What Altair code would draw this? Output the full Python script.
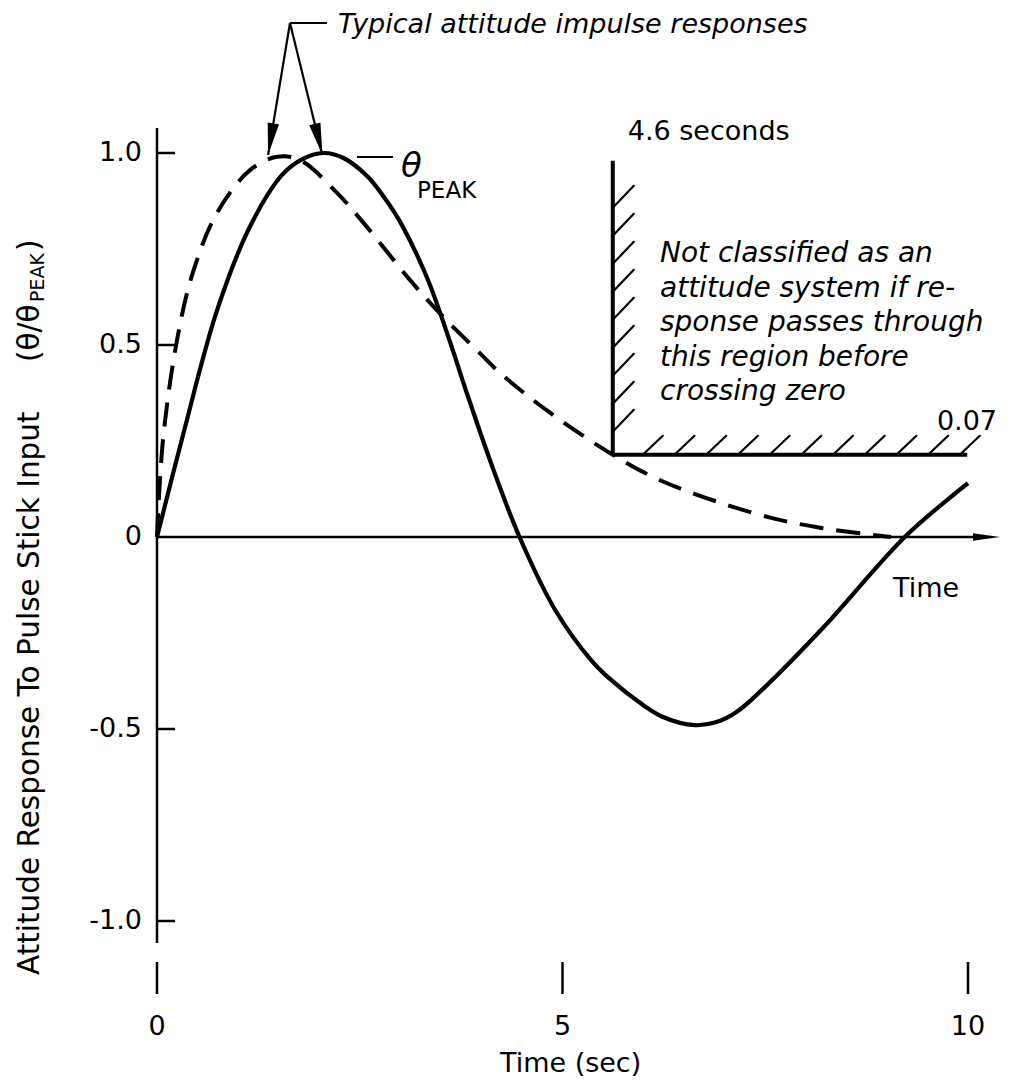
import altair as alt
import numpy as np
import pandas as pd

# ---------------- data ----------------
solid_t = [0.0, 0.32, 0.74, 1.15, 1.55, 1.80, 2.05, 2.30, 2.59, 2.80, 3.00, 3.33, 3.61, 3.82,
           4.14, 4.47, 4.91, 5.35, 5.57, 6.01, 6.23, 6.63, 6.90, 7.15, 7.45, 8.21, 9.22, 9.88,
           10.0]
solid_r = [0.0, 0.265, 0.59, 0.81, 0.945, 0.985, 1.00, 0.987, 0.94, 0.885, 0.82, 0.675, 0.51,
           0.375, 0.18, 0.0, -0.19, -0.32, -0.367, -0.44, -0.468, -0.49, -0.482, -0.455, -0.40,
           -0.237, 0.0, 0.12, 0.14]

dashed_t = [0.0, 0.074, 0.247, 0.444, 0.74, 1.15, 1.48, 1.76, 2.22, 2.59, 3.12, 3.53, 3.98,
            4.23, 4.85, 5.62, 6.12, 6.66, 7.55, 8.21, 9.05]
dashed_r = [0.0, 0.253, 0.513, 0.69, 0.844, 0.956, 0.99, 0.982, 0.896, 0.807, 0.669, 0.573,
            0.479, 0.427, 0.323, 0.214, 0.156, 0.11, 0.051, 0.023, 0.0]

x_ticks = [0, 5, 10]
x_tick_labels = ["0", "5", "10"]
y_ticks = [1.0, 0.5, 0.0, -0.5, -1.0]
y_tick_labels = ["1.0", "0.5", "0", "-0.5", "-1.0"]

region_t = [5.62, 9.99]      # time boundary of the hatched region (drawn), right end
region_r = [0.214, 0.98]     # response boundary (drawn), top of vertical boundary

region_lines = ["Not classified as an", "attitude system if re-",
                "sponse passes through", "this region before", "crossing zero"]

# ---------------- layout ----------------
W, H = 994, 1074
PXX, PXY = 81.1, 384.0          # pixels per second / per unit response
X0PX, Y0PX = 149.0, 529.0       # plot-area pixel of the data origin
xdom = [-X0PX / PXX, (W - X0PX) / PXX]
ydom = [-(H - Y0PX) / PXY, Y0PX / PXY]
xs = alt.Scale(domain=xdom, nice=False, zero=False)
ys = alt.Scale(domain=ydom, nice=False, zero=False)
FONT = "DejaVu Sans"


def ex(f="x"):
    return alt.X(f, type="quantitative", scale=xs, axis=None)


def ey(f="y"):
    return alt.Y(f, type="quantitative", scale=ys, axis=None)


def px(n):
    return n / PXX


def py(n):
    return n / PXY


def rules(rows, width, **kw):
    df = pd.DataFrame(rows, columns=["x", "y", "x2", "y2"])
    return alt.Chart(df).mark_rule(color="black", strokeWidth=width, **kw).encode(
        x=ex(), y=ey(), x2=alt.X2("x2"), y2=alt.Y2("y2"))


def texts(rows, size, **kw):
    df = pd.DataFrame(rows, columns=["x", "y", "text"])
    return alt.Chart(df).mark_text(color="black", font=FONT, fontSize=size, **kw).encode(
        x=ex(), y=ey(), text="text:N")


# curves
df_solid = pd.DataFrame({"x": solid_t, "y": solid_r})
df_dash = pd.DataFrame({"x": dashed_t, "y": dashed_r})
solid = alt.Chart(df_solid).mark_line(color="black", strokeWidth=4.2,
                                      interpolate="catmull-rom").encode(x=ex(), y=ey())
dashed = alt.Chart(df_dash).mark_line(color="black", strokeWidth=4, interpolate="catmull-rom",
                                      strokeDash=[24, 13]).encode(x=ex(), y=ey())

# axes
y_top, y_bot = py(Y0PX - 120), -py(943 - 537)
x_end = px(1000 - 157) - px(14)
axes = rules([[0, y_top, 0, y_bot], [0, 0, x_end, 0]], 2.5)
ytick_rows = [[0, v, px(18), v] for v in y_ticks if v != 0]
yticks = rules(ytick_rows, 2.5)
xtick_rows = [[t, -py(962 - 537), t, -py(994 - 537)] for t in x_ticks]
xticks = rules(xtick_rows, 2.5)

ylab = texts([[-px(15), v, s] for v, s in zip(y_ticks, y_tick_labels)], 27,
             align="right", baseline="middle")
xlab = texts([[t, -py(1027 - 537), s] for t, s in zip(x_ticks, x_tick_labels)], 27,
             align="center", baseline="middle")
xtitle = texts([[5.1, -py(1064 - 537), "Time (sec)"]], 27, align="center", baseline="middle")

# y-axis title (rotated)
yt_x = -px(157 - 30)
ytitle = texts([[yt_x, -py(975 - 537), "Attitude Response To Pulse Stick Input"],
                [yt_x, py(537 - 362), "(θ/θ"],
                [yt_x, py(537 - 251), ")"]], 29.5, align="left", baseline="middle", angle=270)
ytitle_sub = texts([[yt_x + px(8), py(537 - 302), "PEAK"]], 19, align="left",
                   baseline="middle", angle=270)

# x-axis arrowhead
arrow_x = alt.Chart(pd.DataFrame({"x": [px(1000 - 157) - px(13.5)], "y": [0.0]})).mark_point(
    shape="M1,0 L-1,-0.28 L-1,0.28 Z", size=729, filled=True, color="black", opacity=1).encode(
    x=ex(), y=ey())
time_lab = texts([[px(893 - 157), -py(597 - 537), "Time"]], 27, align="left", baseline="alphabetic")

# hatched region
rx0, rx1 = region_t
ry0, ry1 = region_r
boundary = rules([[rx0, ry0, rx0, ry1], [rx0, ry0, rx1, ry0]], 4)
hatch_rows = []
for yv in np.arange(ry0 + py(23), ry1 - py(40), py(28)):
    hatch_rows.append([rx0, yv, rx0 + px(21), yv + py(22)])
for xv in np.arange(rx0 + px(30), rx1 - px(5), px(31.7)):
    hatch_rows.append([xv, ry0, xv + px(20), ry0 + py(19)])
hatches = rules(hatch_rows, 2.2, strokeCap="round")

sec_lab = texts([[rx0 + px(15), py(537 - 140), "4.6 seconds"]], 27, align="left",
                baseline="alphabetic")
r07_lab = texts([[px(997 - 157), py(537 - 430), "0.07"]], 27, align="right", baseline="alphabetic")
base0 = 537 - 262
region_txt = texts([[px(660 - 157), py(base0 - i * 34.5), s] for i, s in enumerate(region_lines)],
                   28, align="left", baseline="alphabetic", fontStyle="italic")

# "Typical attitude impulse responses" leader with arrows
o = (px(290 - 157), py(537 - 23))
tips = [(1.37, 0.995), (2.04, 0.995)]
lead_rows = [[o[0], o[1], px(327 - 157), o[1]]] + [[o[0], o[1], t[0], t[1]] for t in tips]
leaders = rules(lead_rows, 2.2)
head_rows = []
for tx, ty in tips:
    dxp = (tx - o[0]) * PXX
    dyp = -(ty - o[1]) * PXY
    n = np.hypot(dxp, dyp)
    ux, uy = dxp / n, dyp / n
    ang = np.degrees(np.arctan2(-ux, uy)) % 360
    head_rows.append([tx - 16 * ux / PXX, ty + 16 * uy / PXY, ang])
heads = alt.Chart(pd.DataFrame(head_rows, columns=["x", "y", "ang"])).mark_point(
    shape="M0,1 L-0.36,-1 L0.36,-1 Z", size=1024, filled=True, color="black", opacity=1).encode(
    x=ex(), y=ey(), angle=alt.Angle("ang:Q", scale=None))
typ_lab = texts([[px(338 - 157), py(537 - 33), "Typical attitude impulse responses"]], 27,
                align="left", baseline="alphabetic", fontStyle="italic")

# theta-peak label
peak_lead = rules([[px(357 - 157), py(537 - 157), px(393 - 157), py(537 - 157)]], 2.2)
theta_lab = texts([[px(401 - 157), py(537 - 177), "θ"]], 34, align="left", baseline="alphabetic",
                  fontStyle="italic")
peak_lab = texts([[px(417 - 157), py(537 - 198), "PEAK"]], 23, align="left", baseline="alphabetic")

chart = alt.layer(
    boundary, hatches, axes, yticks, xticks, solid, dashed, arrow_x, leaders, heads, peak_lead,
    ylab, xlab, xtitle, ytitle, ytitle_sub, time_lab, sec_lab, r07_lab, region_txt, typ_lab,
    theta_lab, peak_lab
).properties(
    width=W, height=H, padding=0, autosize=alt.AutoSizeParams(type="none"), background="white"
).configure_view(stroke=None)

chart.save("out.html", embed_options={"renderer": "svg", "actions": False})
